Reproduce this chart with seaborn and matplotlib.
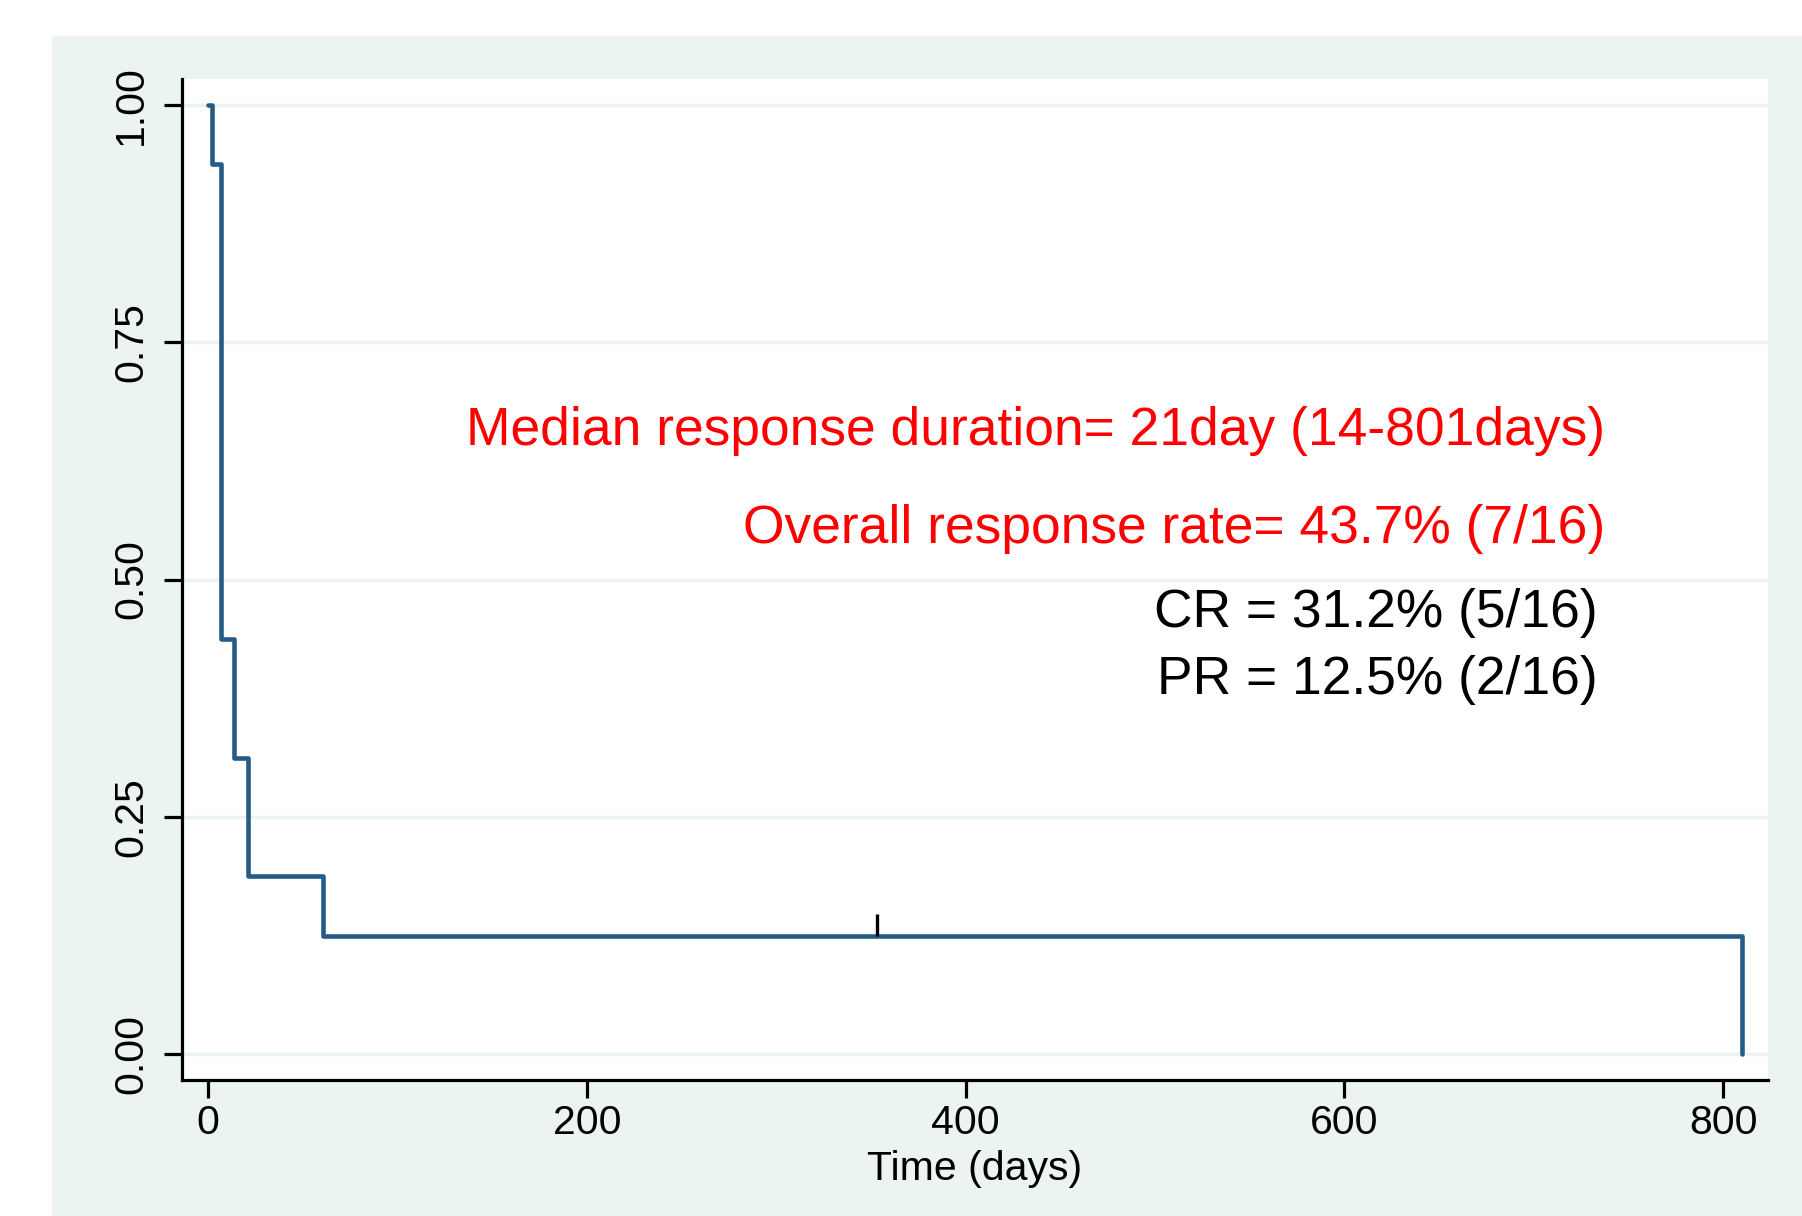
import numpy as np
import pandas as pd
import seaborn as sns
import matplotlib
matplotlib.use("Agg")
from matplotlib import pyplot as plt
from matplotlib.patches import Rectangle

# Kaplan-Meier step points
days = [0, 2, 7, 14, 21, 61, 810]
surv = [1.0, 0.9375, 0.4375, 0.3125, 0.1875, 0.125, 0.0]
censor_days = [353]
censor_surv = [0.125]

xticks = [0, 200, 400, 600, 800]
yticks = [0.00, 0.25, 0.50, 0.75, 1.00]
ytick_labels = ["0.00", "0.25", "0.50", "0.75", "1.00"]

red_lines = ["Median response duration= 21day (14-801days)",
             "Overall response rate= 43.7% (7/16)"]
black_lines = ["CR = 31.2% (5/16)", "PR = 12.5% (2/16)"]

sns.set_style("white")
plt.rcParams['font.family'] = ['Liberation Sans', 'DejaVu Sans']

panel = "#ebf4f3"
navy = "#245c86"

fig = plt.figure(figsize=(18.02, 12.16), dpi=100)
fig.patch.set_facecolor("white")
fig.patches.append(Rectangle((52 / 1802, 0), 1, 1 - 36 / 1216,
                             transform=fig.transFigure, facecolor=panel,
                             edgecolor="none", zorder=-5))
ax = fig.add_axes([182 / 1802, 1 - 1080 / 1216, (1768 - 182) / 1802, (1080 - 79) / 1216])
ax.set_zorder(2)
ax.set_facecolor("white")

df = pd.DataFrame({"Time": days, "Surv": surv})
sns.lineplot(data=df, x="Time", y="Surv", drawstyle="steps-post", color=navy,
             lw=3.3, sort=False, estimator=None, ax=ax, zorder=3)

# censor marks
for cd, cs in zip(censor_days, censor_surv):
    ax.vlines(cd, cs, cs + 0.023, color="black", lw=2.4, zorder=4)

ax.set_xlim(-13.7, 823.6)
ax.set_ylim(-0.027, 1.027)
ax.set_xticks(xticks)
ax.set_yticks(yticks)
ax.set_yticklabels(ytick_labels, rotation=90, va="center")
ax.grid(axis="y", color="#eaf3f2", lw=2.5, zorder=1)
ax.grid(axis="x", visible=False)

for s in ["top", "right"]:
    ax.spines[s].set_visible(False)
for s in ["left", "bottom"]:
    ax.spines[s].set_color("black")
    ax.spines[s].set_linewidth(2.3)

ax.tick_params(axis="both", which="major", direction="out", length=13, width=2.3,
               color="black", labelcolor="black", labelsize=29.5, left=True, bottom=True)
ax.tick_params(axis="y", pad=10)
ax.tick_params(axis="x", pad=4)

ax.set_xlabel("Time (days)", fontsize=29.5, labelpad=6, color="black")
ax.set_ylabel("")

ax.text(1605 / 1802, 1 - 431 / 1216, red_lines[0], transform=fig.transFigure,
        ha="right", va="center", color="red", fontsize=38.4)
ax.text(1605 / 1802, 1 - 529 / 1216, red_lines[1], transform=fig.transFigure,
        ha="right", va="center", color="red", fontsize=38.4)
ax.text(1598 / 1802, 1 - 613 / 1216, black_lines[0], transform=fig.transFigure,
        ha="right", va="center", color="black", fontsize=38.4)
ax.text(1598 / 1802, 1 - 680 / 1216, black_lines[1], transform=fig.transFigure,
        ha="right", va="center", color="black", fontsize=38.4)

fig.savefig("out.png", dpi=100)
